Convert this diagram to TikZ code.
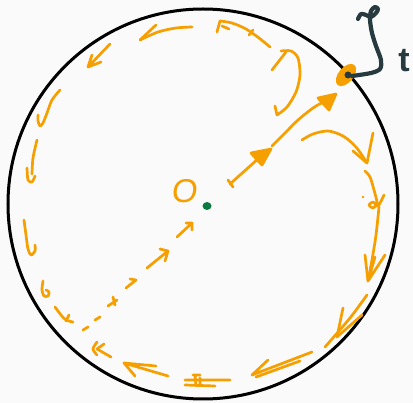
\documentclass[tikz,border=0pt]{standalone}
\usepackage{fontspec}
\newfontfamily\handfont{Liberation Sans}
\definecolor{orng}{HTML}{F59F00}
\definecolor{slate}{HTML}{263A40}
\definecolor{grn}{HTML}{0B7A40}
\definecolor{bgc}{HTML}{FAFAFA}
\begin{document}
\begin{tikzpicture}[x=1pt,y=-1pt,
  ink/.style={draw=orng,line width=2.7pt,line cap=round,line join=round},
  fink/.style={ink,fill=orng},
  slateink/.style={draw=slate,line width=4.2pt,line cap=round,line join=round}]
\fill[bgc] (0,0) rectangle (413,403);
\useasboundingbox (0,0) rectangle (413,403);
% boundary circle
\draw[line width=3pt] (203,204) circle[radius=195pt];
% centre
\fill[grn] (207,206) ellipse[x radius=4.5pt, y radius=4pt];
\node[font=\handfont\fontsize{33}{33}\selectfont, text=orng, inner sep=0pt, xslant=0.12] (O) at (185,191) {O};
% S_t marker
\fill[orng, rotate around={50:(346,75)}] (346,75) ellipse[x radius=13pt, y radius=7.5pt];
\fill[slate] (348,75) circle[radius=3.5pt];
\draw[slateink] plot[smooth] coordinates {(358,19) (361,14) (366,15) (371,17) (376,13) (378,9) (375,7) (371,11) (370,20) (372,33) (376,46) (381,60) (380,69) (371,73) (352,76)};
\node[font=\handfont\bfseries\fontsize{34}{34}\selectfont, text=slate, anchor=base, inner sep=0pt] (t) at (404,72) {t};
% radial arrows
\draw[ink] (230,184) -- (259,158);
\draw[ink] (228,180) -- (233,187);
\filldraw[fink] (271,149) -- (251,153) -- (262,165) -- cycle;
\draw[ink] plot[smooth] coordinates {(272,146) (285,133) (298,120) (313,108) (325,101)};
\filldraw[fink] (336,94) -- (318,98) -- (329,110) -- cycle;
% dashed diagonal toward antipode
\draw[ink] (83,330) -- (88,327);
\draw[ink] (95,320) -- (100,317);
\draw[ink] (108,306) -- (117,300) (113,297) -- (115,305);
\draw[ink] (126,288) -- (136,280) -- (130,279);
\draw[ink] (147,268) -- (168,251) (160,249) -- (168,251) -- (165,261);
\draw[ink] (177,237) -- (192,223) (186,223) -- (192,223) -- (192,230);
% curved arrows near S_t
\draw[ink] (272,70) -- (286,52);
\draw[ink] plot[smooth] coordinates {(281,51) (291,51) (298,58) (300,75) (296,92) (287,107) (277,115)};
\draw[ink] (275,106) -- (277,115);
\draw[ink] plot[smooth] coordinates {(302,140) (313,134) (328,131) (343,136) (356,147) (367,163)};
\draw[ink] (353,151) -- (367,163) -- (373,133);
% top arrows
\draw[ink] plot[smooth] coordinates {(270,47) (259,38) (246,29) (232,23) (220,21)};
\draw[ink] (220,21) -- (217,32) (222,26) -- (229,29) (249,35) -- (253,30);
\draw[ink] plot[smooth] coordinates {(192,27) (176,28) (158,32) (140,40)};
\draw[ink] (140,40) -- (156,25);
\draw[ink] (110,44) -- (88,67) (101,62) -- (88,67) -- (92,55);
% left side
\draw[ink] plot[smooth] coordinates {(60,90) (52,100) (47,113) (43,123) (40,126) (38,121) (38,115)};
\draw[ink] plot[smooth] coordinates {(37,140) (33,158) (32,174)};
\draw[ink] plot[smooth] coordinates {(27,168) (28,180) (32,182) (35,176)};
\draw[ink] plot[smooth] coordinates {(24,220) (26,235) (28,249) (31,255) (35,251) (35,245)};
\draw[ink] plot[smooth] coordinates {(43,281) (42,290) (44,296) (48,296) (49,292) (46,290)};
\draw[ink] plot[smooth] coordinates {(55,307) (61,315) (66,320) (73,322)};
\draw[ink] (66,321) -- (69,315);
\draw[ink] plot[smooth] coordinates {(97,342) (93,349) (97,355)};
\draw[ink] (111,357) -- (97,349) -- (104,344);
% bottom
\draw[ink] (168,376) -- (124,363) -- (156,366) (124,363) -- (135,376);
\draw[ink] (185,380) -- (230,380) (185,385) -- (215,386) (195,375) -- (196,386) (200,378) -- (200,384) (193,375) -- (200,375);
\draw[ink] (312,352) -- (252,375) -- (268,360) (300,361) -- (256,377);
\draw[ink] plot[smooth] coordinates {(367,295) (350,318) (325,347)};
\draw[ink] (343,308) -- (337,337) -- (362,315);
% right side
\draw[ink] plot[smooth] coordinates {(365,171) (370,177) (374,190) (377,203) (373,208) (369,205) (373,202) (378,206) (384,195)};
\fill[orng] (363,197) circle[radius=1.3pt];
\draw[ink] plot[smooth] coordinates {(379,207) (376,235) (372,260) (368,281)};
\draw[ink] (365,255) -- (368,281) -- (385,255) (375,257) -- (368,281);
\end{tikzpicture}
\end{document}
